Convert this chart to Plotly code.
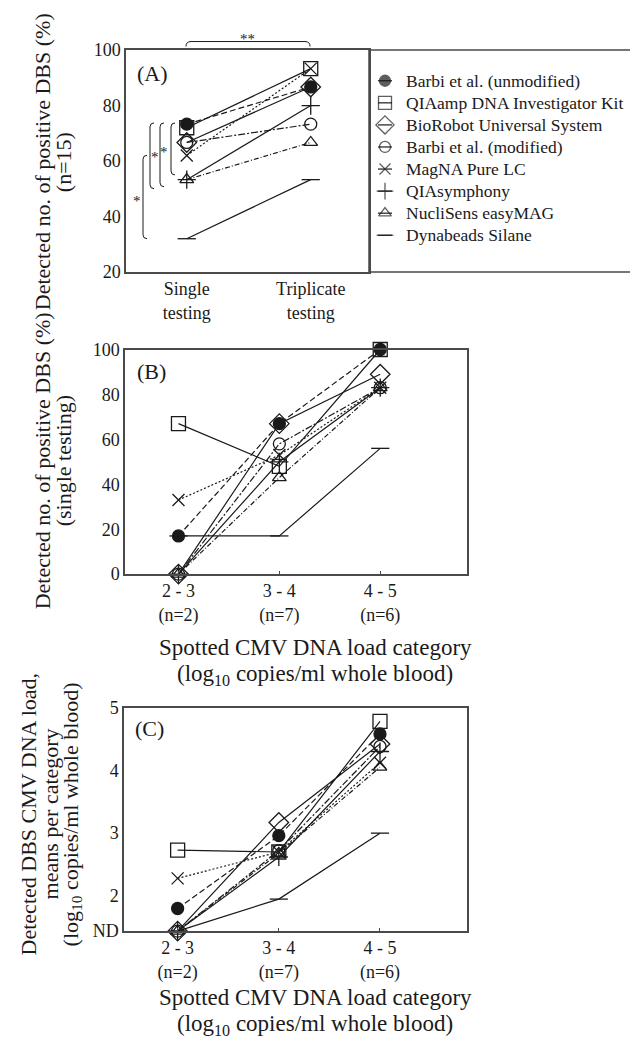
import plotly.graph_objects as go

# The page body keeps the browser's default 8px margin, so the figure is drawn
# 8px right/down inside the 638x1050 window; size it to fill the rest exactly.
OFF = 8
W, H = 638 - OFF, 1050 - OFF
FONT = "Liberation Serif"
INK = "#1a1a1a"
FRAME = "#4a4a4a"

methods = ["Barbi et al. (unmodified)", "QIAamp DNA Investigator Kit", "BioRobot Universal System",
           "Barbi et al. (modified)", "MagNA Pure LC", "QIAsymphony", "NucliSens easyMAG", "Dynabeads Silane"]

testing_cats = ["Single<br>testing", "Triplicate<br>testing"]
a_single = [73.3, 72.0, 66.7, 66.7, 62.0, 53.3, 53.3, 32.0]
a_triplicate = [86.7, 93.3, 86.7, 73.3, 93.3, 80.0, 66.7, 53.3]

load_cats = ["2 - 3<br>(n=2)", "3 - 4<br>(n=7)", "4 - 5<br>(n=6)"]
b_barbi_unmod = [17, 67, 100]
b_qiaamp = [67, 48, 100]
b_biorobot = [0, 67, 89]
b_barbi_mod = [0, 58, 83]
b_magna = [33, 53, 83]
b_qiasymphony = [0, 50, 83]
b_nuclisens = [0, 43, 83]
b_dynabeads = [17, 17, 56]

ND = 1.44
c_barbi_unmod = [1.80, 2.96, 4.58]
c_qiaamp = [2.73, 2.70, 4.78]
c_biorobot = [ND, 3.17, 4.42]
c_barbi_mod = [ND, 2.72, 4.38]
c_magna = [2.28, 2.70, 4.12]
c_qiasymphony = [ND, 2.62, 4.30]
c_nuclisens = [ND, 2.68, 4.05]
c_dynabeads = [ND, 1.95, 3.00]

c_ticks = [ND, 2, 3, 4, 5]
c_ticktext = ["ND", "2", "3", "4", "5"]

b_series = [b_barbi_unmod, b_qiaamp, b_biorobot, b_barbi_mod, b_magna, b_qiasymphony, b_nuclisens, b_dynabeads]
c_series = [c_barbi_unmod, c_qiaamp, c_biorobot, c_barbi_mod, c_magna, c_qiasymphony, c_nuclisens, c_dynabeads]

symbols = ["circle", "square-open", "diamond-open", "circle-open", "x-thin-open",
           "cross-thin-open", "triangle-up-open", "line-ew-open"]
msizes = [12, 14, 15, 12, 12, 13, 12, 13]
dashes = ["6px,3px", "solid", "solid", "7px,2px,2px,2px", "2px,2px", "solid", "5px,2px,1px,2px", "solid"]


def px_x(x):
    return (x - OFF) / W


def px_y(y):
    return 1 - (y - OFF) / H


fig = go.Figure()

for i, name in enumerate(methods):
    style = dict(
        mode="lines+markers",
        line=dict(color=INK, width=1.2, dash=dashes[i]),
        marker=dict(symbol=symbols[i], size=msizes[i], color=INK,
                    line=dict(color=INK, width=1.3)),
        cliponaxis=False,
        name=name,
        showlegend=False,
    )
    fig.add_trace(go.Scatter(x=testing_cats, y=[a_single[i], a_triplicate[i]],
                             xaxis="x", yaxis="y", **style))
    fig.add_trace(go.Scatter(x=load_cats, y=b_series[i], xaxis="x2", yaxis="y2", **style))
    fig.add_trace(go.Scatter(x=load_cats, y=c_series[i], xaxis="x3", yaxis="y3", **style))

# legend keys (short line through marker), one row per method
for i, name in enumerate(methods):
    fig.add_trace(go.Scatter(
        x=[-7, 0, 7], y=[i, i, i], xaxis="x4", yaxis="y4", mode="lines+markers",
        line=dict(color=INK, width=1.2),
        marker=dict(symbol=symbols[i], size=[0, msizes[i] - 1, 0], color=INK,
                    line=dict(color=INK, width=1.3)),
        showlegend=False, hoverinfo="skip", cliponaxis=False))
    fig.add_annotation(text=name, x=19, y=i, xref="x4", yref="y4", showarrow=False,
                       xanchor="left", yanchor="middle",
                       font=dict(family=FONT, size=17.5, color=INK))

axis_common = dict(showline=True, mirror=True, linecolor=FRAME, linewidth=1.5,
                   showgrid=False, zeroline=False,
                   tickfont=dict(family=FONT, size=18, color=INK))
hidden = dict(visible=False, showgrid=False, zeroline=False, fixedrange=True)

LEG_TOP_ROW, LEG_STEP = 72, 22.5

fig.update_layout(
    width=W, height=H,
    margin=dict(l=0, r=0, t=0, b=0),
    paper_bgcolor="white", plot_bgcolor="white",
    font=dict(family=FONT, color=INK),
    showlegend=False,
    xaxis=dict(domain=[px_x(126), px_x(369)], anchor="y", type="category",
               range=[-0.49, 1.47], ticks="", **axis_common),
    yaxis=dict(domain=[px_y(267), px_y(40.7)], anchor="x", range=[20, 100],
               tickvals=[20, 40, 60, 80, 100], ticks="", **axis_common),
    xaxis2=dict(domain=[px_x(125), px_x(467)], anchor="y2", type="category",
                range=[-0.53, 2.86], ticks="inside", ticklen=3, tickcolor=FRAME, **axis_common),
    yaxis2=dict(domain=[px_y(575), px_y(346)], anchor="x2", range=[0, 100],
                tickvals=[0, 20, 40, 60, 80, 100], ticks="", **axis_common),
    xaxis3=dict(domain=[px_x(124), px_x(467)], anchor="y3", type="category",
                range=[-0.53, 2.86], ticks="inside", ticklen=3, tickcolor=FRAME, **axis_common),
    yaxis3=dict(domain=[px_y(939), px_y(711)], anchor="x3", range=[ND, 5],
                tickvals=c_ticks, ticktext=c_ticktext, ticks="", **axis_common),
    xaxis4=dict(domain=[px_x(369), 1], anchor="y4", range=[-16, 253], **hidden),
    yaxis4=dict(domain=[px_y(267), px_y(40.7)], anchor="x4",
                range=[(267 - LEG_TOP_ROW) / LEG_STEP, (40.7 - LEG_TOP_ROW) / LEG_STEP], **hidden),
)

# legend frame
fig.add_shape(type="rect", xref="paper", yref="paper",
              x0=px_x(369), x1=px_x(641), y0=px_y(267), y1=px_y(40.7),
              line=dict(color=FRAME, width=1.5))


# significance brackets (panel A)
def bracket(x, top, bottom, r=4):
    return (f"M {px_x(x + r)} {px_y(top)} Q {px_x(x)} {px_y(top)} {px_x(x)} {px_y(top + r)} "
            f"L {px_x(x)} {px_y(bottom - r)} Q {px_x(x)} {px_y(bottom)} {px_x(x + r)} {px_y(bottom)}")


for bx, bt, bb in [(143, 148, 233), (150, 115, 182), (160, 115, 180), (171, 115, 168)]:
    fig.add_shape(type="path", xref="paper", yref="paper", path=bracket(bx, bt, bb),
                  line=dict(color=INK, width=1))

top_path = (f"M {px_x(186)} {px_y(37)} Q {px_x(186)} {px_y(32)} {px_x(191)} {px_y(32)} "
            f"L {px_x(305)} {px_y(32)} Q {px_x(310)} {px_y(32)} {px_x(310)} {px_y(37)}")
fig.add_shape(type="path", xref="paper", yref="paper", path=top_path,
              line=dict(color=INK, width=1))


def ann(text, x, y, size=22, angle=0, xanchor="center"):
    fig.add_annotation(text=text, x=px_x(x), y=px_y(y), xref="paper", yref="paper",
                       showarrow=False, textangle=angle, xanchor=xanchor, yanchor="middle",
                       font=dict(family=FONT, size=size, color=INK))


for sx, sy in [(137, 192), (155, 147), (164, 142)]:
    ann("*", sx, sy + 3, size=15)
ann("**", 247, 29, size=15)

ann("(A)", 152, 65)
ann("(B)", 151, 368)
ann("(C)", 149, 732)

ann("Detected no. of positive DBS (%)", 42, 155, angle=-90)
ann("(n=15)", 63, 155, angle=-90)
ann("Detected no. of positive DBS (%)", 42, 460, angle=-90)
ann("(single testing)", 63, 460, angle=-90)
ann("Detected DBS CMV DNA load,", 28, 820, angle=-90)
ann("means per category", 50, 820, angle=-90)
ann("(log<sub>10</sub> copies/ml whole blood)", 72, 820, angle=-90)

ann("Spotted CMV DNA load category", 315, 650, size=23)
ann("(log<sub>10</sub> copies/ml whole blood)", 315, 678, size=23)
ann("Spotted CMV DNA load category", 315, 1007, size=23)
ann("(log<sub>10</sub> copies/ml whole blood)", 315, 1035, size=23)

fig.write_html("out.html")
